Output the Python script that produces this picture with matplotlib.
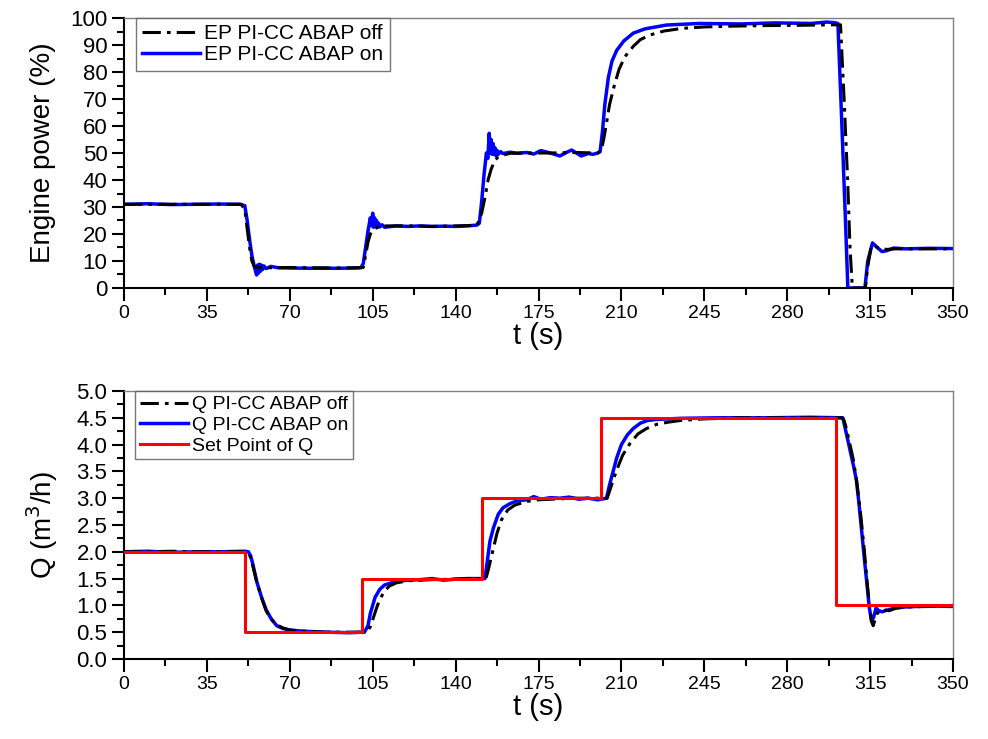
import matplotlib
matplotlib.use("Agg")
from matplotlib import pyplot as plt
from matplotlib import font_manager
from matplotlib.ticker import MultipleLocator, AutoMinorLocator

# engine power, ABAP off (black dash-dot)
ep_off = [(0, 31), (10, 31), (20, 31), (30, 31), (40, 31), (49.5, 31), (51, 29), (52, 22), (53, 15),
          (54, 10), (55, 8), (57, 7.6), (60, 7.5), (70, 7.6), (80, 7.5), (90, 7.4), (98, 7.5), (101, 7.6),
          (102, 12), (103, 17), (104, 20), (105, 21.5), (107, 22.5), (110, 23), (120, 23), (130, 22.8),
          (140, 23), (149, 23.2), (151, 27.7), (152.5, 34), (153.7, 40), (155, 44), (156.6, 47.4),
          (158, 48.5), (160, 49.2), (163, 49.9), (170, 50), (180, 50), (190, 50.2), (200, 50),
          (201.5, 51), (202.5, 55), (203.5, 60), (205, 68), (207, 75), (209, 81), (211.5, 85.7),
          (215, 89.5), (218, 92), (222, 93.7), (228, 95.2), (236, 96.2), (245, 96.7), (257, 97),
          (270, 97.2), (285, 97.3), (300, 97.5), (302.5, 97.5), (304, 70), (305.5, 40), (306.5, 15),
          (307.5, 0), (313, 0), (314, 8), (315.5, 15.5), (317, 15.5), (319, 14.6), (322, 14.3),
          (326, 14.5), (335, 14.5), (350, 14.5)]

# engine power, ABAP on (blue)
ep_on = [(0, 31), (10, 31.2), (20, 30.9), (30, 31), (40, 31.1), (49, 31), (51, 30.5), (52, 25), (53, 18),
         (54, 12), (55, 8), (55.6, 6), (56, 4.8), (56.4, 8.5), (56.8, 5.5), (57.2, 8.8), (57.6, 6.2),
         (58, 8.5), (58.5, 6.8), (59, 8.2), (60, 7.2), (62, 8), (65, 7.5), (70, 7.4), (80, 7.3), (90, 7.3),
         (98, 7.4), (100, 7.5), (101, 9), (102, 15), (103, 21), (104, 26), (104.5, 23), (105, 27.7),
         (105.4, 22.5), (105.8, 26), (106.2, 22.8), (106.6, 25), (107, 22.5), (107.5, 24), (108, 22.6),
         (109, 23.4), (110, 22.5), (115, 23), (120, 22.8), (125, 23), (130, 22.8), (135, 22.9),
         (140, 22.8), (145, 23), (149, 23.3), (150, 24), (151, 32), (152, 42), (153, 50), (153.6, 48),
         (154.2, 57.3), (154.6, 50), (155, 55), (155.4, 49.5), (155.8, 53.5), (156.2, 49.5), (156.6, 52),
         (157, 49), (157.5, 51), (158, 49.5), (159, 50.5), (160, 49.8), (163, 50.3), (166, 49.9),
         (170, 50.2), (173, 49.6), (176, 50.9), (180, 50), (184, 48.9), (187, 50.3), (189, 51.1),
         (191, 50), (193, 48.9), (196, 49.8), (198, 49.5), (200, 50), (201, 50.5), (202, 58), (203, 68),
         (204.5, 78), (206, 84), (208, 88), (211, 91.5), (215, 94.4), (220, 96), (229, 97.4), (243, 98),
         (260, 97.8), (275, 98.2), (290, 98), (296.6, 98.5), (300, 98.3), (301.4, 98), (303, 62),
         (304.5, 27), (305.6, 0), (312.8, 0), (314, 10), (316, 16.7), (318, 15), (320, 13.5), (322, 13.8),
         (325, 14.8), (330, 14.5), (340, 14.7), (350, 14.6)]

# flow, ABAP off (black dash-dot)
q_off = [(0, 2.0), (10, 2.0), (20, 2.01), (30, 2.0), (40, 2.0), (52, 2.0), (53, 1.95), (54, 1.8), (56, 1.45),
         (58, 1.15), (60, 0.9), (62, 0.75), (64, 0.65), (67, 0.58), (70, 0.54), (75, 0.52), (85, 0.5),
         (95, 0.5), (102.5, 0.5), (104, 0.6), (105.5, 0.8), (107, 1.0), (108.5, 1.15), (110, 1.27),
         (112, 1.36), (115, 1.42), (120, 1.46), (130, 1.48), (140, 1.49), (150, 1.5), (152.8, 1.5),
         (154, 1.7), (155.6, 2.0), (157.5, 2.35), (159.4, 2.6), (162, 2.78), (165, 2.87), (170, 2.94),
         (175, 2.97), (180, 2.98), (190, 3.0), (200, 3.0), (204, 3.0), (205.5, 3.2), (207, 3.4),
         (208.5, 3.58), (210.5, 3.8), (213.6, 4.02), (217, 4.2), (220.6, 4.3), (225, 4.38), (230, 4.42),
         (235, 4.45), (245, 4.48), (260, 4.5), (280, 4.5), (303, 4.5), (304, 4.45), (305, 4.3),
         (306.5, 4.0), (308, 3.7), (309.5, 3.25), (311, 2.7), (312.5, 2.05), (313.8, 1.4), (314.8, 0.95),
         (315.6, 0.7), (316.3, 0.62), (317, 0.72), (318, 0.85), (320, 0.92), (323, 0.9), (326, 0.95),
         (330, 0.97), (340, 0.98), (350, 1.0)]

# flow, ABAP on (blue)
q_on = [(0, 2.0), (10, 2.01), (20, 1.99), (30, 2.0), (40, 2.0), (51, 2.01), (52.5, 2.0), (53.5, 1.92),
        (54.5, 1.75), (56, 1.45), (58, 1.16), (60, 0.92), (62, 0.76), (64.5, 0.62), (67, 0.57), (70, 0.54),
        (75, 0.52), (85, 0.5), (95, 0.49), (101.5, 0.5), (103, 0.62), (104, 0.85), (106, 1.15), (108, 1.3),
        (110, 1.38), (115, 1.45), (120, 1.47), (125, 1.48), (130, 1.5), (135, 1.47), (140, 1.49), (145, 1.5),
        (152.4, 1.5), (153.3, 1.8), (154.5, 2.2), (156, 2.45), (158, 2.7), (160, 2.82), (163, 2.9),
        (166, 2.95), (170, 2.97), (173, 3.03), (176, 2.98), (180, 3.01), (184, 3.0), (188, 3.02),
        (192, 2.98), (196, 3.0), (200, 2.97), (203.7, 3.0), (205, 3.25), (206.5, 3.5), (208, 3.75),
        (210, 4.0), (212.5, 4.18), (215, 4.3), (218, 4.4), (221, 4.45), (225, 4.47), (235, 4.49),
        (250, 4.5), (270, 4.5), (290, 4.51), (303.5, 4.5), (305, 4.2), (306.5, 3.9), (308, 3.6),
        (309.2, 3.34), (310.3, 2.9), (311.4, 2.4), (312.5, 1.9), (313.5, 1.47), (314.6, 0.98),
        (315.6, 0.7), (316.5, 0.78), (317.5, 0.95), (318.4, 0.91), (320, 0.88), (322, 0.91),
        (325.5, 0.95), (330, 0.97), (340, 0.99), (350, 0.98)]

# set point of Q (step changes)
t_set = [0, 51, 100.5, 151, 201.5, 300.5, 350]
q_set = [2.0, 0.5, 1.5, 3.0, 4.5, 1.0, 1.0]

x_ticks = [0, 35, 70, 105, 140, 175, 210, 245, 280, 315, 350]

names = [f.name for f in font_manager.fontManager.ttflist]
base = "Liberation Sans" if "Liberation Sans" in names else "DejaVu Sans"
narrow = "Liberation Sans Narrow" if "Liberation Sans Narrow" in names else base
plt.rcParams["font.family"] = base

fig = plt.figure(figsize=(9.88, 7.39), dpi=100)
ax1 = fig.add_axes([0.1255, 0.6103, 0.8391, 0.3653])
ax2 = fig.add_axes([0.1255, 0.1083, 0.8391, 0.3626])


def style(ax):
    for s in ["top", "right"]:
        ax.spines[s].set_color("#808080")
        ax.spines[s].set_linewidth(1.0)
    for s in ["left", "bottom"]:
        ax.spines[s].set_linewidth(1.5)
    ax.set_xlim(0, 350)
    ax.set_xticks(x_ticks)
    ax.xaxis.set_minor_locator(AutoMinorLocator(2))
    ax.yaxis.set_minor_locator(AutoMinorLocator(2))
    ax.tick_params(which="major", direction="out", length=9, width=1.5, top=False, right=False)
    ax.tick_params(which="minor", direction="out", length=5, width=1.5, top=False, right=False)
    ax.tick_params(axis="y", labelsize=16, pad=3)
    ax.tick_params(axis="x", labelsize=15, pad=3)
    for lab in ax.get_xticklabels():
        lab.set_fontfamily(narrow)
        if narrow == base:
            lab.set_fontsize(14)
    ax.set_xlabel("t (s)", fontsize=21, labelpad=0)


t, v = zip(*ep_off)
ax1.plot(t, v, color="black", lw=2.2, ls=(0, (6, 2, 1.2, 2)), label="EP PI-CC ABAP off", zorder=3)
t, v = zip(*ep_on)
ax1.plot(t, v, color="#0000ff", lw=2.5, label="EP PI-CC ABAP on", zorder=2)
ax1.set_ylim(0, 100)
ax1.yaxis.set_major_locator(MultipleLocator(10))
ax1.set_ylabel("Engine power (%)", fontsize=20, labelpad=10)
style(ax1)
leg = ax1.legend(loc="upper left", fontsize=15, frameon=True, fancybox=False, borderaxespad=0,
                 bbox_to_anchor=(0.014, 1.0), handlelength=2.8, borderpad=0.3, labelspacing=0.1,
                 handletextpad=0.2)
leg.get_frame().set_edgecolor("#555555")
leg.get_frame().set_linewidth(1.0)

t, v = zip(*q_off)
ax2.plot(t, v, color="black", lw=2.2, ls=(0, (6, 2, 1.2, 2)), label="Q PI-CC ABAP off", zorder=3)
t, v = zip(*q_on)
ax2.plot(t, v, color="#0000ff", lw=2.5, label="Q PI-CC ABAP on", zorder=2)
ax2.plot(t_set, q_set, color="#ff0000", lw=2.2, drawstyle="steps-post", label="Set Point of Q", zorder=4)
ax2.set_ylim(0, 5)
ax2.yaxis.set_major_locator(MultipleLocator(0.5))
ax2.yaxis.set_major_formatter(matplotlib.ticker.FormatStrFormatter("%.1f"))
ax2.set_ylabel("Q (m$^3$/h)", fontsize=20, labelpad=12)
style(ax2)
leg = ax2.legend(loc="upper left", fontsize=14, frameon=True, fancybox=False, borderaxespad=0,
                 bbox_to_anchor=(0.013, 1.0), handlelength=2.5, borderpad=0.25, labelspacing=0.15,
                 handletextpad=0.2)
leg.get_frame().set_edgecolor("#555555")
leg.get_frame().set_linewidth(1.0)

fig.savefig("out.png", dpi=100)
